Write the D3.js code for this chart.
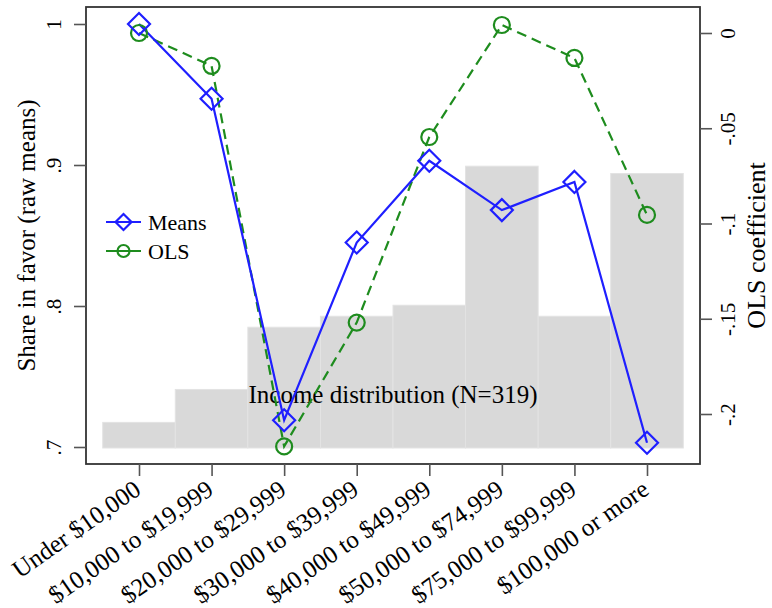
<!DOCTYPE html>
<html>
<head>
<meta charset="utf-8">
<script src="https://cdn.jsdelivr.net/npm/d3@7"></script>
<style>
  html, body { margin: 0; padding: 0; background: #fff; }
  svg { display: block; }
  svg text { font-family: "Liberation Serif", "Times New Roman", serif !important; }
</style>
</head>
<body>
<svg id="chart" width="772" height="608"></svg>
<script>
// ---- data ----
const categories = ["Under $10,000", "$10,000 to $19,999", "$20,000 to $29,999", "$30,000 to $39,999",
                    "$40,000 to $49,999", "$50,000 to $74,999", "$75,000 to $99,999", "$100,000 or more"];
const means = [1.0, 0.947, 0.719, 0.845, 0.903, 0.868, 0.888, 0.703];
const olsCoef = [0.0, -0.0173, -0.217, -0.152, -0.0546, 0.0042, -0.0131, -0.0955];
const incomeCounts = [7, 16, 33, 36, 39, 77, 36, 75];   // N = 319
const leftTicks = [0.7, 0.8, 0.9, 1.0];
const leftTickLabels = [".7", ".8", ".9", "1"];
const rightTicks = [-0.2, -0.15, -0.1, -0.05, 0];
const rightTickLabels = ["-.2", "-.15", "-.1", "-.05", "0"];
const seriesNames = ["Means", "OLS"];
const histLabel = "Income distribution (N=319)";

// ---- layout ----
const svg = d3.select("#chart");
const frame = { left: 86, top: 7, right: 700, bottom: 464 };
const blue = "#1f1fff", green = "#1e8c1e";

const x = d3.scalePoint().domain(categories).range([frame.left + 53, frame.right - 53]);
const step = x.step();
const yLeft = d3.scaleLinear().domain([0.7, 1]).range([447, 24]);
const yRight = d3.scaleLinear().domain([-0.2, 0]).range([414, 33]);
const yHist = d3.scaleLinear().domain([0, 100]).range([448, 82]);

// histogram bars
svg.append("g").selectAll("rect").data(incomeCounts).join("rect")
  .attr("x", (d, i) => x(categories[i]) - step / 2)
  .attr("width", step)
  .attr("y", d => yHist(d))
  .attr("height", d => yHist(0) - yHist(d))
  .attr("fill", "#d9d9d9")
  .attr("stroke", "#e3e3e3")
  .attr("stroke-width", 1);

// annotation
svg.append("text")
  .attr("x", (x(categories[0]) + x(categories[categories.length - 1])) / 2)
  .attr("y", yLeft(0.731))
  .attr("text-anchor", "middle")
  .attr("font-size", 25)
  .attr("fill", "#000")
  .text(histLabel);

// frame
svg.append("rect")
  .attr("x", frame.left).attr("y", frame.top)
  .attr("width", frame.right - frame.left).attr("height", frame.bottom - frame.top)
  .attr("fill", "none").attr("stroke", "#333").attr("stroke-width", 1.8);

// axes
const fmtL = d => leftTickLabels[leftTicks.indexOf(d)];
const fmtR = d => rightTickLabels[rightTicks.indexOf(d)];

const gL = svg.append("g").attr("transform", `translate(${frame.left},0)`)
  .call(d3.axisLeft(yLeft).tickValues(leftTicks).tickFormat(fmtL).tickSize(12));
const gR = svg.append("g").attr("transform", `translate(${frame.right},0)`)
  .call(d3.axisRight(yRight).tickValues(rightTicks).tickFormat(fmtR).tickSize(12));
const gB = svg.append("g").attr("transform", `translate(0,${frame.bottom})`)
  .call(d3.axisBottom(x).tickSize(12));

[gL, gR, gB].forEach(g => {
  g.attr("font-family", null);
  g.select(".domain").remove();
  g.selectAll(".tick line").attr("stroke", "#555").attr("stroke-width", 1.6);
  g.selectAll(".tick text").attr("fill", "#000");
});
gL.selectAll(".tick text").attr("x", null).attr("dy", null).attr("y", 0)
  .attr("font-size", 21).attr("text-anchor", "middle")
  .attr("transform", "translate(-25,0) rotate(-90)");
gR.selectAll(".tick text").attr("x", null).attr("dy", null).attr("y", 0)
  .attr("font-size", 21).attr("text-anchor", "middle")
  .attr("transform", "translate(35,0) rotate(-90)");
gB.selectAll(".tick text").attr("x", null).attr("dy", null).attr("y", 0)
  .attr("font-size", 25).attr("text-anchor", "end")
  .attr("transform", "translate(3,29) rotate(-35)");

// axis titles
svg.append("text")
  .attr("transform", `translate(35,${(frame.top + frame.bottom) / 2}) rotate(-90)`)
  .attr("text-anchor", "middle").attr("font-size", 25).attr("fill", "#000")
  .text("Share in favor (raw means)");
svg.append("text")
  .attr("transform", `translate(765,${(frame.top + frame.bottom) / 2 + 10}) rotate(-90)`)
  .attr("text-anchor", "middle").attr("font-size", 26).attr("fill", "#000")
  .text("OLS coefficient");

// lines
const lineL = d3.line().x((d, i) => x(categories[i])).y(d => yLeft(d));
const lineR = d3.line().x((d, i) => x(categories[i])).y(d => yRight(d));

svg.append("path").datum(olsCoef).attr("d", lineR)
  .attr("fill", "none").attr("stroke", green).attr("stroke-width", 2.2).attr("stroke-dasharray", "10,6");
svg.append("path").datum(means).attr("d", lineL)
  .attr("fill", "none").attr("stroke", blue).attr("stroke-width", 2.2);

const diamond = (cx, cy, r) => `M${cx},${cy - r}L${cx + r},${cy}L${cx},${cy + r}L${cx - r},${cy}Z`;

svg.append("g").selectAll("circle").data(olsCoef).join("circle")
  .attr("cx", (d, i) => x(categories[i])).attr("cy", d => yRight(d)).attr("r", 8)
  .attr("fill", "none").attr("stroke", green).attr("stroke-width", 2.2);
svg.append("g").selectAll("path").data(means).join("path")
  .attr("d", (d, i) => diamond(x(categories[i]), yLeft(d), 11))
  .attr("fill", "none").attr("stroke", blue).attr("stroke-width", 2.2);

// legend
const leg = svg.append("g");
const legItems = [
  { name: seriesNames[0], color: blue, y: 222, shape: "diamond" },
  { name: seriesNames[1], color: green, y: 251, shape: "circle" }
];
legItems.forEach(it => {
  leg.append("line").attr("x1", 106).attr("x2", 141).attr("y1", it.y).attr("y2", it.y)
    .attr("stroke", it.color).attr("stroke-width", 2.2);
  if (it.shape === "diamond") {
    leg.append("path").attr("d", diamond(123.5, it.y, 8))
      .attr("fill", "none").attr("stroke", it.color).attr("stroke-width", 2.2);
  } else {
    leg.append("circle").attr("cx", 123.5).attr("cy", it.y).attr("r", 6)
      .attr("fill", "none").attr("stroke", it.color).attr("stroke-width", 2.2);
  }
  leg.append("text").attr("x", 148).attr("y", it.y + 8).attr("font-size", 22).attr("fill", "#000")
    .text(it.name);
});
</script>
</body>
</html>
